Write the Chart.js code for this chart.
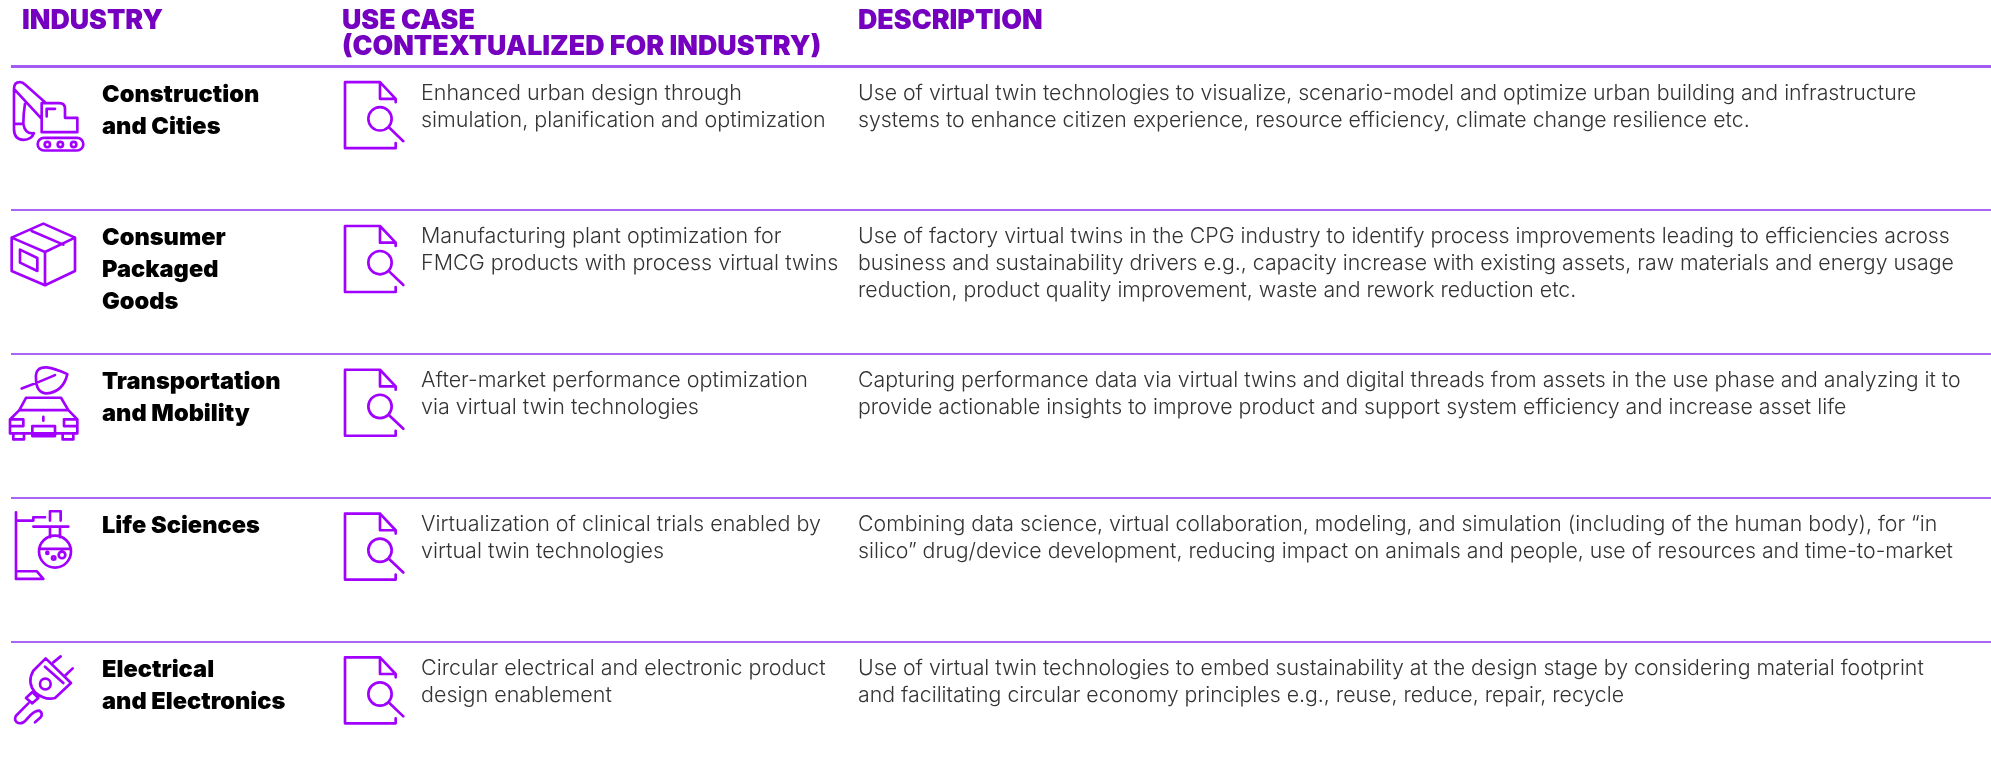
<!DOCTYPE html>
<html>
<head>
<meta charset="utf-8">
<title>Virtual twin use cases by industry</title>
<script src="https://cdn.jsdelivr.net/npm/chart.js@4"></script>
<style>
  html, body { margin: 0; padding: 0; background: #ffffff; overflow: hidden; }
  canvas { display: block; }
</style>
</head>
<body>
<canvas id="myChart" width="1991" height="781"></canvas>
<script>
const headers = [
    ["INDUSTRY"],
    ["USE CASE", "(CONTEXTUALIZED FOR INDUSTRY)"],
    ["DESCRIPTION"]
];
const industries = [
    ["Construction", "and Cities"],
    ["Consumer", "Packaged", "Goods"],
    ["Transportation", "and Mobility"],
    ["Life Sciences"],
    ["Electrical", "and Electronics"]
];
const useCases = [
    ["Enhanced urban design through", "simulation, planification and optimization"],
    ["Manufacturing plant optimization for", "FMCG products with process virtual twins"],
    ["After-market performance optimization", "via virtual twin technologies"],
    ["Virtualization of clinical trials enabled by", "virtual twin technologies"],
    ["Circular electrical and electronic product", "design enablement"]
];
const descriptions = [
    ["Use of virtual twin technologies to visualize, scenario-model and optimize urban building and infrastructure",
     "systems to enhance citizen experience, resource efficiency, climate change resilience etc."],
    ["Use of factory virtual twins in the CPG industry to identify process improvements leading to efficiencies across",
     "business and sustainability drivers e.g., capacity increase with existing assets, raw materials and energy usage",
     "reduction, product quality improvement, waste and rework reduction etc."],
    ["Capturing performance data via virtual twins and digital threads from assets in the use phase and analyzing it to",
     "provide actionable insights to improve product and support system efficiency and increase asset life"],
    ["Combining data science, virtual collaboration, modeling, and simulation (including of the human body), for “in",
     "silico” drug/device development, reducing impact on animals and people, use of resources and time-to-market"],
    ["Use of virtual twin technologies to embed sustainability at the design stage by considering material footprint",
     "and facilitating circular economy principles e.g., reuse, reduce, repair, recycle"]
];

// icon outlines, traced at 3x, second value is where the row rule sits in the trace
const docIcon = "M197 95V85L150 35H45V233H197V218M150 35V85H197M178 172L220 212M185 145A35 35 0 1 1 115 145A35 35 0 1 1 185 145";
const rowIcons = [
    ["M42 190V85Q42 65 60 65Q68 65 75 72L135 125M42 85L125 175M125 215V128H178Q195 128 195 145V172H232V215ZM140 168V145H165M132 232H231A19 19 0 0 1 231 270H132A19 19 0 0 1 132 232ZM150 252A8 8 0 1 1 134 252A8 8 0 1 1 150 252M189 252A8 8 0 1 1 173 252A8 8 0 1 1 189 252M229 252A8 8 0 1 1 213 252A8 8 0 1 1 229 252M42 190V205Q42 238 70 238Q95 238 102 218Q75 222 70 190M42 190H70M75 130Q70 160 70 190", 18],
    ["M35 532L130 490L225 532V632L135 675L35 632ZM35 532L135 575L225 532M135 575V675M95 512L190 553M60 568L112 593V632L60 607Z", 450],
    ["M108 85Q105 50 140 52Q165 55 202 72Q190 125 140 130Q108 128 108 85ZM65 115Q120 95 165 75M58 180L78 143H183L205 180M58 180H205M58 180L30 208V250H232V208L205 180M30 208H70V228H30M232 208H192V228H232M97 228H165V258H97ZM130 200V212M40 250V268H72V250M188 250V268H220V250", 12],
    ["M48 485V685H130L110 662H48M48 510H100V500H135M100 528H205M150 510V482H182V510M150 530V560M180 530V560M213 603A48 48 0 1 1 117 603A48 48 0 1 1 213 603M117 595H213M145 607A3 3 0 1 1 139 607A3 3 0 1 1 145 607M166 622A5 5 0 1 1 156 622A5 5 0 1 1 166 622M196 613A10 10 0 1 1 176 613A10 10 0 1 1 196 613", 442],
    ["M137 113L213 187L165 232Q135 240 105 215Q80 185 100 150ZM135 138L190 187M160 125L182 107M195 165L218 143M152 190A16 16 0 1 1 120 190A16 16 0 1 1 152 190M78 232L97 214L115 232L97 248ZM85 248L48 285Q40 300 55 307Q68 310 78 298L92 283Q105 270 118 270Q130 278 122 290L105 305", 63]
];

const rowIndex = industries.map((r, i) => i);

const tablePlugin = {
    id: 'tableText',
    afterDraw(chart) {
        const ctx = chart.ctx;
        const x = chart.scales.x;
        const y = chart.scales.y;
        const columns = [x.getPixelForValue(22), x.getPixelForValue(342), x.getPixelForValue(858)];

        function drawLines(lines, left, top, step, font, color) {
            ctx.font = font;
            ctx.fillStyle = color;
            lines.forEach((line, i) => ctx.fillText(line, left, top + i * step));
        }
        function drawIcon(path, left, top) {
            ctx.save();
            ctx.translate(left, top);
            ctx.scale(1 / 3, 1 / 3);
            ctx.strokeStyle = "#a100ff";
            ctx.lineWidth = 8;
            ctx.lineJoin = "round";
            ctx.lineCap = "round";
            ctx.stroke(new Path2D(path));
            ctx.restore();
        }

        ctx.save();
        ctx.textBaseline = "alphabetic";
        ctx.textAlign = "left";
        headers.forEach((h, i) => {
            drawLines(h, columns[i], 29, 26, "900 26.8px Inter", "#7500c0");
        });
        rowIndex.forEach((row) => {
            const top = y.getPixelForValue(row);
            drawIcon(rowIcons[row][0], 0, top - rowIcons[row][1] / 3);
            drawIcon(docIcon, 330, top + 4);
            drawLines(industries[row], 102, top + 35, 32, "900 23.6px Inter", "#000000");
            drawLines(useCases[row], 421, top + 33, 27, "300 21.5px Inter", "#333333");
            drawLines(descriptions[row], columns[2], top + 33, 27, "300 21.3px Inter", "#333333");
        });
        ctx.restore();
    }
};

const ctx = document.getElementById('myChart').getContext('2d');
const myChart = new Chart(ctx, {
    type: 'scatter',
    data: {
        datasets: [{
            label: "rows",
            data: rowIndex.map((r) => ({ x: 22, y: r })),
            pointRadius: 0
        }]
    },
    options: {
        responsive: false,
        animation: false,
        layout: { padding: { left: 11, right: 0, top: 0, bottom: 0 } },
        plugins: { legend: { display: false }, tooltip: { enabled: false } },
        scales: {
            x: {
                type: 'linear',
                min: 11,
                max: 1991,
                display: false
            },
            y: {
                type: 'linear',
                reverse: true,
                min: -66.5 / 143.8,
                max: (781 - 66.5) / 143.8,
                border: { display: false },
                ticks: { display: false },
                afterBuildTicks: (axis) => { axis.ticks = rowIndex.map((r) => ({ value: r })); },
                grid: {
                    drawTicks: false,
                    color: (c) => c.index === 0 ? "#a25bf0" : "#a866f2",
                    lineWidth: (c) => c.index === 0 ? 3 : 2
                }
            }
        }
    },
    plugins: [tablePlugin]
});
</script>
</body>
</html>
